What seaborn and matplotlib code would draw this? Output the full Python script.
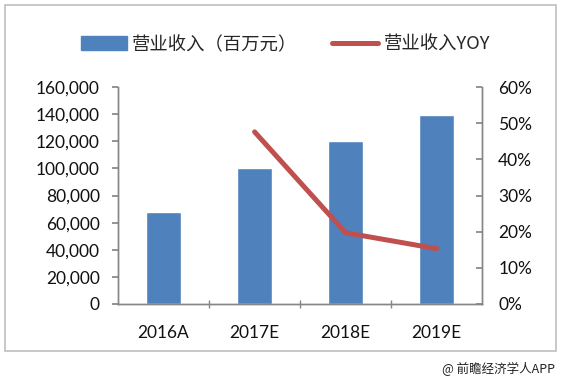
import matplotlib
matplotlib.use("Agg")
import matplotlib.pyplot as plt
import seaborn as sns
import pandas as pd
from matplotlib.patches import Rectangle, Patch
from matplotlib.lines import Line2D
from matplotlib.ticker import FuncFormatter, MultipleLocator

years = ["2016A", "2017E", "2018E", "2019E"]
revenue = [68000, 100500, 120500, 139000]
yoy_years = ["2017E", "2018E", "2019E"]
yoy = [0.476, 0.197, 0.153]
bar_label = "营业收入（百万元）"
line_label = "营业收入YOY"
source = "@ 前瞻经济学人APP"

sns.set_theme(style="white")
plt.rcParams['font.family'] = ['Lato', 'Noto Sans CJK SC', 'DejaVu Sans']

BLUE = "#4F81BD"
RED = "#C0504D"
GRAY = "#868686"
TXT = "#111111"

fig = plt.figure(figsize=(5.62, 3.8), dpi=100)
ax = fig.add_axes([0.21, 0.2, 0.648, 0.571])

df = pd.DataFrame({"year": years, "revenue": revenue})
sns.barplot(data=df, x="year", y="revenue", color=BLUE, width=0.385,
            saturation=1, ax=ax)
ax.set_xlim(-0.5, 3.5)
ax.set_ylim(0, 160000)
ax.yaxis.set_major_locator(MultipleLocator(20000))
ax.yaxis.set_major_formatter(FuncFormatter(lambda v, p: f"{int(v):,}"))
ax.set_xlabel("")
ax.set_ylabel("")

ax2 = ax.twinx()
df2 = pd.DataFrame({"year": yoy_years, "yoy": yoy})
sns.lineplot(data=df2, x="year", y="yoy", color=RED, linewidth=3.6,
             sort=False, ax=ax2)
ax2.set_xlim(-0.5, 3.5)
ax2.set_ylim(0, 0.6)
ax2.yaxis.set_major_locator(MultipleLocator(0.1))
ax2.yaxis.set_major_formatter(FuncFormatter(lambda v, p: f"{v*100:.0f}%"))
ax2.set_ylabel("")
ax2.set_xlabel("")

for a in (ax, ax2):
    a.spines["top"].set_visible(False)
    for s in ("left", "right", "bottom"):
        a.spines[s].set_color(GRAY)
        a.spines[s].set_linewidth(1.0)
    a.grid(False)

ax.tick_params(axis="y", left=True, direction="out", length=4, color=GRAY,
               labelsize=12.5, labelcolor=TXT, pad=9)
ax.tick_params(axis="x", bottom=False, labelsize=12.5, labelcolor=TXT, pad=9)
ax2.tick_params(axis="y", right=True, direction="in", length=4, color=GRAY,
                labelsize=12.5, labelcolor=TXT, pad=11.5)
ax.set_xticks(range(len(years)))
ax.set_xticklabels(years)
# category separators on the x axis
ax.set_xticks([i + 0.5 for i in range(len(years) - 1)], minor=True)
ax.tick_params(axis="x", which="minor", bottom=True, direction="inout",
               length=6, color=GRAY)

# legend
handles = [Patch(facecolor=BLUE, edgecolor=BLUE),
           Line2D([0], [0], color=RED, linewidth=3.6)]
fig.legend(handles, [bar_label, line_label], loc="center",
           bbox_to_anchor=(0.508, 0.882), ncol=2, frameon=False,
           handlelength=2.5, handleheight=0.8,
           columnspacing=1.9, handletextpad=0.3,
           prop={"family": ["Noto Sans CJK SC", "DejaVu Sans"], "size": 13.2})

# outer border
fig.patches.append(Rectangle((5 / 562, 1 - 351 / 380), 551 / 562, 346 / 380,
                             transform=fig.transFigure, fill=False,
                             edgecolor="#BFBFBF", linewidth=1.2))

fig.text(0.988, 1 - 369 / 380, source, ha="right", va="center", fontsize=9,
         family=["Noto Sans CJK SC", "DejaVu Sans"], color="#222222")

fig.savefig("out.png", dpi=100)
